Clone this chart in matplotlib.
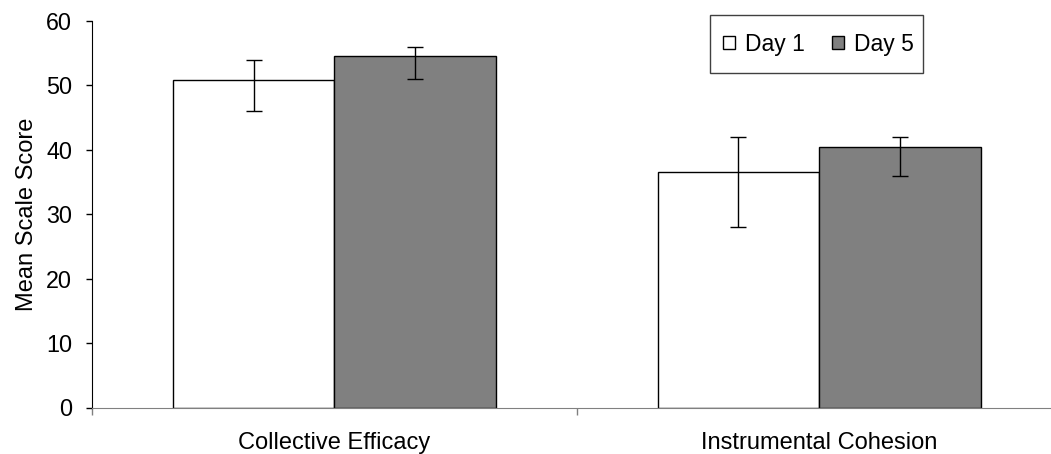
import matplotlib
matplotlib.use("Agg")
import matplotlib.pyplot as plt
from matplotlib.patches import Rectangle
import numpy as np

categories = ["Collective Efficacy", "Instrumental Cohesion"]
series_names = ["Day 1", "Day 5"]
day1_values = [50.8, 36.5]
day5_values = [54.6, 40.5]
day1_err_low = [46, 28]
day1_err_high = [54, 42]
day5_err_low = [51, 36]
day5_err_high = [56, 42]
yticks = [0, 10, 20, 30, 40, 50, 60]

plt.rcParams['font.family'] = ['Liberation Sans', 'DejaVu Sans']

W, H = 1051, 454
fig = plt.figure(figsize=(W/100, H/100), dpi=100)
ax = fig.add_axes([92/W, 1 - 407.5/H, (1061.5 - 92)/W, (407.5 - 21)/H])

x = np.arange(len(categories))
w = 1/3
d1 = np.array(day1_values)
d5 = np.array(day5_values)
err1 = [d1 - np.array(day1_err_low), np.array(day1_err_high) - d1]
err5 = [d5 - np.array(day5_err_low), np.array(day5_err_high) - d5]

ax.bar(x - w/2, d1, w, color="white", edgecolor="black", linewidth=1, label=series_names[0], zorder=2)
ax.bar(x + w/2, d5, w, color="#808080", edgecolor="black", linewidth=1, label=series_names[1], zorder=2)
ax.errorbar(x - w/2, d1, yerr=err1, fmt="none", ecolor="black", elinewidth=1, capsize=6, capthick=1, zorder=3)
ax.errorbar(x + w/2, d5, yerr=err5, fmt="none", ecolor="black", elinewidth=1, capsize=6, capthick=1, zorder=3)

ax.set_xlim(-0.5, 1.5)
ax.set_ylim(0, 60)
ax.set_yticks(yticks)
ax.set_yticklabels([str(t) for t in yticks], fontsize=16.8)
ax.set_xticks(x)
ax.set_xticklabels(categories, fontsize=17)
ax.tick_params(axis='x', which='major', length=0, pad=17.5)
ax.set_xticks([-0.5, 0.5, 1.5], minor=True)
ax.tick_params(axis='x', which='minor', length=5, width=1, color='#808080', direction='out')
ax.tick_params(axis='y', length=4.3, width=1, direction='out', pad=10)

ax.spines['top'].set_visible(False)
ax.spines['right'].set_visible(False)
ax.spines['bottom'].set_color('#808080')
ax.spines['bottom'].set_zorder(4)
ax.spines['left'].set_color('black')
ax.set_ylabel("Mean Scale Score", fontsize=17, labelpad=6)

leg = fig.legend(loc='center', bbox_to_anchor=(818.5/W, 1 - 44/H), ncol=2,
                 fontsize=16.5, frameon=False,
                 handlelength=0.52, handleheight=0.52, handletextpad=0.44, columnspacing=1.18,
                 borderpad=0, borderaxespad=0)
fig.add_artist(Rectangle((709.7/W, 1 - 72.7/H), (923.3 - 709.7)/W, (72.7 - 15.3)/H,
                         transform=fig.transFigure, facecolor='none', edgecolor='#404040',
                         linewidth=1))

fig.savefig("out.png", dpi=100)
